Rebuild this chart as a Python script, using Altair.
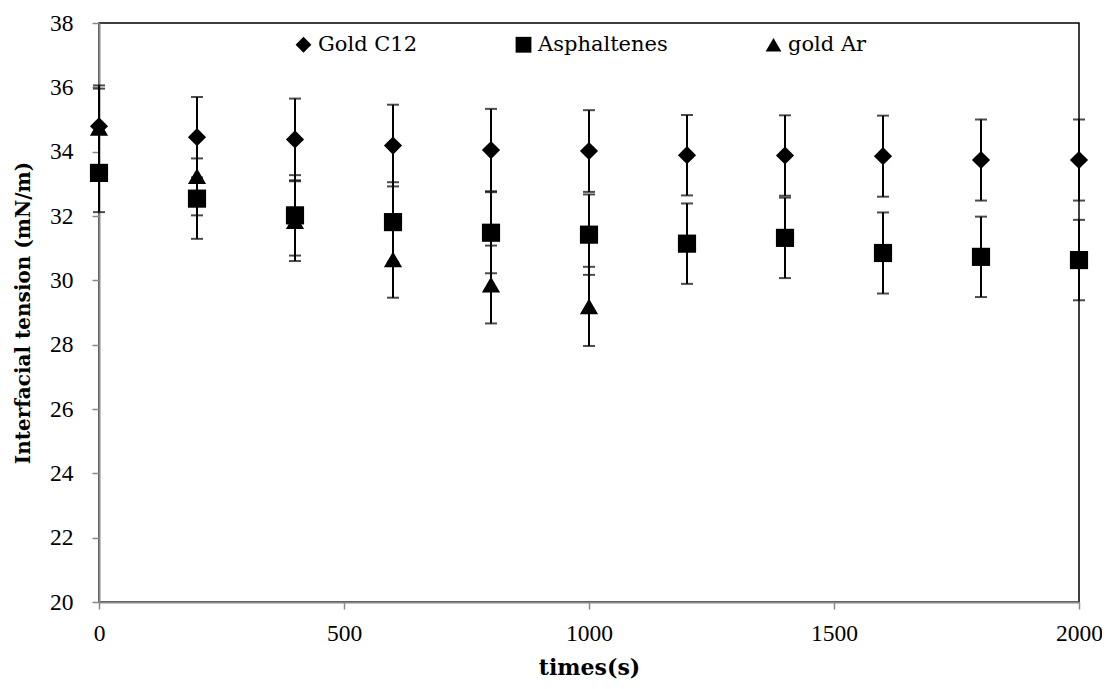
import altair as alt
import pandas as pd

# ---- data ----
times = [0, 200, 400, 600, 800, 1000, 1200, 1400, 1600, 1800, 2000]
gold_c12 = [34.79, 34.45, 34.38, 34.19, 34.05, 34.02, 33.89, 33.88, 33.86, 33.74, 33.74]
gold_c12_err = [1.27, 1.25, 1.27, 1.27, 1.28, 1.27, 1.25, 1.25, 1.26, 1.26, 1.26]
asphaltenes = [33.34, 32.54, 32.02, 31.81, 31.48, 31.42, 31.14, 31.32, 30.85, 30.73, 30.63]
asphaltenes_err = [1.22, 1.25, 1.25, 1.24, 1.26, 1.25, 1.25, 1.25, 1.26, 1.25, 1.25]
gold_ar_times = [0, 200, 400, 600, 800, 1000]
gold_ar = [34.74, 33.24, 31.84, 30.65, 29.87, 29.19]
gold_ar_err = [1.22, 1.22, 1.24, 1.19, 1.21, 1.23]

series_names = ["Gold C12", "Asphaltenes", "gold Ar"]
series_shapes = ["diamond", "square", "triangle-up"]

rows = []
for t, v, e in zip(times, gold_c12, gold_c12_err):
    rows.append({"time": t, "value": v, "err": e, "series": "Gold C12"})
for t, v, e in zip(times, asphaltenes, asphaltenes_err):
    rows.append({"time": t, "value": v, "err": e, "series": "Asphaltenes"})
for t, v, e in zip(gold_ar_times, gold_ar, gold_ar_err):
    rows.append({"time": t, "value": v, "err": e, "series": "gold Ar"})
df = pd.DataFrame(rows)

FONT = "DejaVu Serif"
TICK_FONT = "Liberation Serif"

base = alt.Chart(df).transform_calculate(
    lo="datum.value - datum.err", hi="datum.value + datum.err"
)

x = alt.X("time:Q", scale=alt.Scale(domain=[0, 2000], nice=False),
          axis=alt.Axis(title="times(s)", values=[0, 500, 1000, 1500, 2000], format="d",
                        labelFlush=False, titleFontSize=22))
y_axis = alt.Axis(title="Interfacial tension (mN/m)", values=list(range(20, 39, 2)), format="d",
                  labelFlush=False, titleFontSize=20)
yscale = alt.Scale(domain=[20, 38], nice=False, zero=False)

bars = base.mark_rule(color="black", strokeWidth=2).encode(
    x=x,
    y=alt.Y("lo:Q", scale=yscale, axis=y_axis),
    y2="hi:Q",
)
cap_lo = base.mark_tick(color="black", orient="horizontal", size=12, thickness=2).encode(
    x="time:Q", y=alt.Y("lo:Q", scale=yscale)
)
cap_hi = base.mark_tick(color="black", orient="horizontal", size=12, thickness=2).encode(
    x="time:Q", y=alt.Y("hi:Q", scale=yscale)
)
points = base.mark_point(filled=True, opacity=1, size=330, color="black", strokeWidth=0).encode(
    x="time:Q",
    y=alt.Y("value:Q", scale=yscale),
    shape=alt.Shape(
        "series:N",
        scale=alt.Scale(domain=series_names, range=series_shapes),
        legend=alt.Legend(
            title=None, orient="none", direction="horizontal",
            legendX=194, legendY=11,
        ),
    ),
)

chart = alt.layer(bars, cap_lo, cap_hi, points).properties(
    width=980, height=579,
    autosize=alt.AutoSizeParams(type="none"),
    padding={"left": 91, "top": 15, "right": 23, "bottom": 79},
).configure_view(
    stroke="black", strokeWidth=1.5
).configure_axis(
    domainColor="#888888", domainWidth=2,
    tickColor="#888888", tickWidth=1.5, tickSize=7,
    grid=False,
    labelFont=TICK_FONT, labelFontSize=23.5, labelColor="black",
    titleFont=FONT, titleFontWeight="bold", titleColor="black",
).configure_axisX(
    labelPadding=12, titlePadding=13,
).configure_axisY(
    labelPadding=19, titlePadding=16,
).configure_legend(
    labelFont=FONT, labelFontSize=21, labelColor="black",
    symbolSize=250, symbolFillColor="black", symbolStrokeWidth=0, symbolOpacity=1,
    columnPadding=95, labelOffset=4, padding=0,
)

chart.save("out.html", embed_options={"renderer": "svg", "actions": False})
